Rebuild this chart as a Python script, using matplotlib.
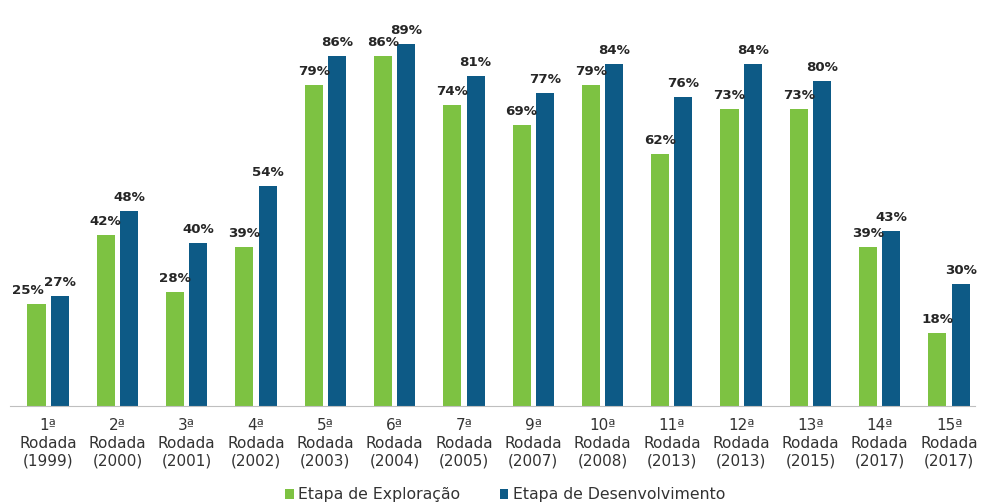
import numpy as np
import matplotlib.pyplot as plt

rodadas = ["1ª", "2ª", "3ª", "4ª", "5ª", "6ª", "7ª", "9ª", "10ª", "11ª", "12ª", "13ª", "14ª", "15ª"]
anos = ["1999", "2000", "2001", "2002", "2003", "2004", "2005", "2007", "2008", "2013", "2013", "2015", "2017", "2017"]
exploracao = [25, 42, 28, 39, 79, 86, 74, 69, 79, 62, 73, 73, 39, 18]
desenvolvimento = [27, 48, 40, 54, 86, 89, 81, 77, 84, 76, 84, 80, 43, 30]

verde = "#7DC242"
azul = "#0D5A86"
texto = "#262626"

fig = plt.figure(figsize=(9.81, 5.04), dpi=100)
ax = fig.add_axes([10 / 981, 98 / 504, 965 / 981, 406 / 504])

x = np.arange(len(rodadas))
w = 0.26
gap = 0.075
b1 = ax.bar(x - (w + gap) / 2, exploracao, w, color=verde, label="Etapa de Exploração")
b2 = ax.bar(x + (w + gap) / 2, desenvolvimento, w, color=azul, label="Etapa de Desenvolvimento")

for k, (bars, vals) in enumerate([(b1, exploracao), (b2, desenvolvimento)]):
    for i, (r, v) in enumerate(zip(bars, vals)):
        dx = -9 if (k == 0 and i == 0) else 0  # first label nudged left like the original
        ax.annotate(f"{v}%", (r.get_x() + r.get_width() / 2, v), xytext=(dx, 7),
                    textcoords="offset pixels", ha="center", va="bottom",
                    fontsize=9.6, fontweight="bold", color=texto)

ax.set_xlim(-0.55, 13.375)
ax.set_ylim(0, 99.8)
ax.set_xticks(x)
ax.set_xticklabels([f"{r}\nRodada\n({a})" for r, a in zip(rodadas, anos)],
                   fontsize=11, color="#333333", linespacing=1.2)
ax.tick_params(axis="x", length=0, pad=9)
ax.set_yticks([])
for s in ["top", "right", "left"]:
    ax.spines[s].set_visible(False)
ax.spines["bottom"].set_color("#BFBFBF")

fig.legend(loc="lower center", bbox_to_anchor=(0.515, -0.025), ncol=2, frameon=False,
           fontsize=11.3, handlelength=0.55, handleheight=0.55, handletextpad=0.3,
           columnspacing=2.5, labelcolor="#333333")

fig.savefig("out.png", dpi=100)
